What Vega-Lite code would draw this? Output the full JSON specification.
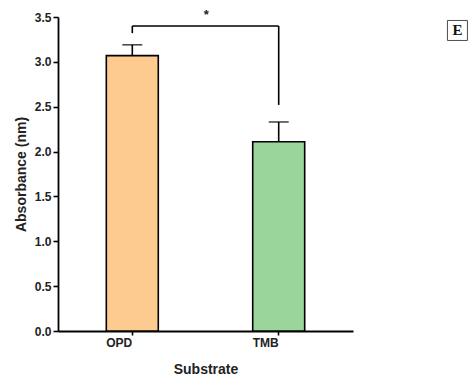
{
  "$schema": "https://vega.github.io/schema/vega-lite/v6.json",
  "width": 295,
  "height": 314,
  "autosize": {"type": "none"},
  "padding": {"left": 58, "top": 17, "right": 116, "bottom": 52},
  "background": "white",
  "config": {
    "view": {"stroke": null},
    "font": "Liberation Sans",
    "axis": {
      "domainColor": "black", "domainWidth": 1.8,
      "tickColor": "black", "tickWidth": 1.6,
      "labelFont": "Liberation Sans", "labelFontWeight": "bold", "labelFontSize": 12, "labelColor": "#222",
      "titleFont": "Liberation Sans", "titleFontWeight": "bold", "titleFontSize": 14, "titleColor": "#222",
      "grid": false
    }
  },
  "datasets": {
    "bars": [
      {"substrate": "OPD", "absorbance": 3.07, "upper": 3.19},
      {"substrate": "TMB", "absorbance": 2.11, "upper": 2.33}
    ],
    "bracketV": [
      {"substrate": "OPD", "from": 3.32, "to": 3.40},
      {"substrate": "TMB", "from": 2.52, "to": 3.40}
    ],
    "bracketH": [
      {"start": "OPD", "end": "TMB", "level": 3.40}
    ]
  },
  "layer": [
    {
      "layer": [
        {
          "data": {"name": "bars"},
          "mark": {"type": "rule", "stroke": "black", "strokeWidth": 1.6},
          "encoding": {
            "x": {"field": "substrate", "type": "nominal", "bandPosition": 0.5},
            "y": {"field": "absorbance", "type": "quantitative"},
            "y2": {"field": "upper"}
          }
        },
        {
          "data": {"name": "bars"},
          "mark": {"type": "tick", "orient": "horizontal", "color": "black", "thickness": 1.6, "size": 20},
          "encoding": {
            "x": {"field": "substrate", "type": "nominal", "bandPosition": 0.5},
            "y": {"field": "upper", "type": "quantitative"}
          }
        },
        {
          "data": {"name": "bars"},
          "mark": {"type": "bar", "stroke": "black", "strokeWidth": 1.6},
          "encoding": {
            "x": {
              "field": "substrate", "type": "nominal", "title": "Substrate",
              "scale": {"paddingInner": 0.645, "paddingOuter": 0.33},
              "axis": {"labelAngle": 0, "tickSize": 4, "labelPadding": 7, "titlePadding": 14}
            },
            "y": {
              "field": "absorbance", "type": "quantitative", "title": "Absorbance (nm)",
              "scale": {"domain": [0, 3.5], "nice": false},
              "axis": {
                "values": [0, 0.25, 0.5, 0.75, 1, 1.25, 1.5, 1.75, 2, 2.25, 2.5, 2.75, 3, 3.25, 3.5],
                "labelExpr": "datum.value % 0.5 === 0 ? format(datum.value, '.1f') : ''",
                "tickSize": {"condition": {"test": "datum.value % 0.5 === 0", "value": 5}, "value": 3},
                "labelPadding": 2,
                "titlePadding": 6
              }
            },
            "color": {
              "field": "substrate", "type": "nominal", "legend": null,
              "scale": {"domain": ["OPD", "TMB"], "range": ["#FDCB8F", "#9AD69C"]}
            }
          }
        },
        {
          "data": {"name": "bracketV"},
          "mark": {"type": "rule", "stroke": "black", "strokeWidth": 1.6},
          "encoding": {
            "x": {"field": "substrate", "type": "nominal", "bandPosition": 0.5},
            "y": {"field": "from", "type": "quantitative"},
            "y2": {"field": "to"}
          }
        },
        {
          "data": {"name": "bracketH"},
          "mark": {"type": "rule", "stroke": "black", "strokeWidth": 1.6},
          "encoding": {
            "x": {"field": "start", "type": "nominal", "bandPosition": 0.5},
            "x2": {"field": "end", "bandPosition": 0.5},
            "y": {"field": "level", "type": "quantitative"}
          }
        }
      ]
    },
    {
      "data": {"values": [{"label": "*"}]},
      "layer": [
        {
          "mark": {"type": "text", "fontSize": 13, "fontWeight": "bold", "color": "#222", "clip": false, "baseline": "middle"},
          "encoding": {
            "x": {"datum": 0.503, "type": "quantitative", "scale": {"domain": [0, 1], "nice": false}, "axis": null},
            "y": {"datum": 3.52, "type": "quantitative", "title": "Absorbance (nm)"},
            "text": {"value": "*"}
          }
        },
        {
          "mark": {"type": "point", "shape": "square", "size": 400, "filled": true, "fill": "white", "stroke": "black", "strokeWidth": 1, "clip": false},
          "encoding": {
            "x": {"datum": 1.354, "type": "quantitative", "scale": {"domain": [0, 1], "nice": false}, "axis": null},
            "y": {"datum": 3.35, "type": "quantitative", "title": "Absorbance (nm)"}
          }
        },
        {
          "mark": {"type": "text", "font": "Liberation Serif", "fontSize": 15, "fontWeight": "bold", "color": "#111", "clip": false, "baseline": "middle"},
          "encoding": {
            "x": {"datum": 1.354, "type": "quantitative", "scale": {"domain": [0, 1], "nice": false}, "axis": null},
            "y": {"datum": 3.35, "type": "quantitative", "title": "Absorbance (nm)"},
            "text": {"value": "E"}
          }
        }
      ]
    }
  ],
  "resolve": {"scale": {"x": "independent"}, "axis": {"x": "independent"}}
}
